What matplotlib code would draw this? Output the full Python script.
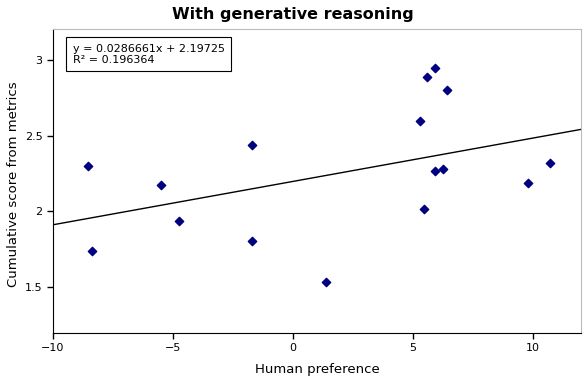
import numpy as np
import matplotlib.pyplot as plt

# Datos
human_pref = [-8.54, -8.375, -5.5, -4.75, -1.71, -1.71, 1.375, 5.29, 5.58,
              5.92, 6.42, 5.46, 5.92, 6.25, 9.79, 10.71]
metric_score = [2.30, 1.738, 2.175, 1.937, 2.44, 1.805, 1.533, 2.60, 2.885,
                2.95, 2.80, 2.017, 2.268, 2.28, 2.19, 2.32]

# Recta de regresión publicada
slope = 0.0286661
intercept = 2.19725
r2 = 0.196364

fig = plt.figure(figsize=(5.86, 3.82), dpi=100)
ax = fig.add_axes([53/586, 49/382, 528/586, 304/382])

ax.scatter(human_pref, metric_score, marker='D', s=18, color='#000080', zorder=5)

x_line = np.array([-10, 12])
ax.plot(x_line, slope * x_line + intercept, color='black', linewidth=1)

ax.set_xlim(-10, 12)
ax.set_ylim(1.195, 3.205)
ax.set_xticks([-10, -5, 0, 5, 10])
ax.set_xticklabels(['\u221210', '\u22125', '0', '5', '10'])
ax.set_yticks([1.5, 2, 2.5, 3])
ax.set_yticklabels(['1.5', '2', '2.5', '3'])
ax.tick_params(labelsize=8, length=4, width=1)

ax.spines['top'].set_color('#bbbbbb')
ax.spines['right'].set_color('#bbbbbb')

# Título centrado en la figura
fig.text(0.5, 1 - 15/382, "With generative reasoning", fontsize=11.5,
         fontweight='bold', ha='center', va='center')
ax.set_xlabel("Human preference", fontsize=9.5, labelpad=7)
fig.text(14/586, 1 - 184/382, "Cumulative score from metrics", fontsize=9.5,
         rotation=90, ha='center', va='center')

ax.text(0.037, 0.952, f"y = {slope}x + {intercept}\nR\u00b2 = {r2}",
        transform=ax.transAxes, fontsize=8, va='top', ha='left',
        bbox=dict(boxstyle='square,pad=0.55', facecolor='white', edgecolor='black', linewidth=0.8))

plt.savefig("out.png", dpi=100)
